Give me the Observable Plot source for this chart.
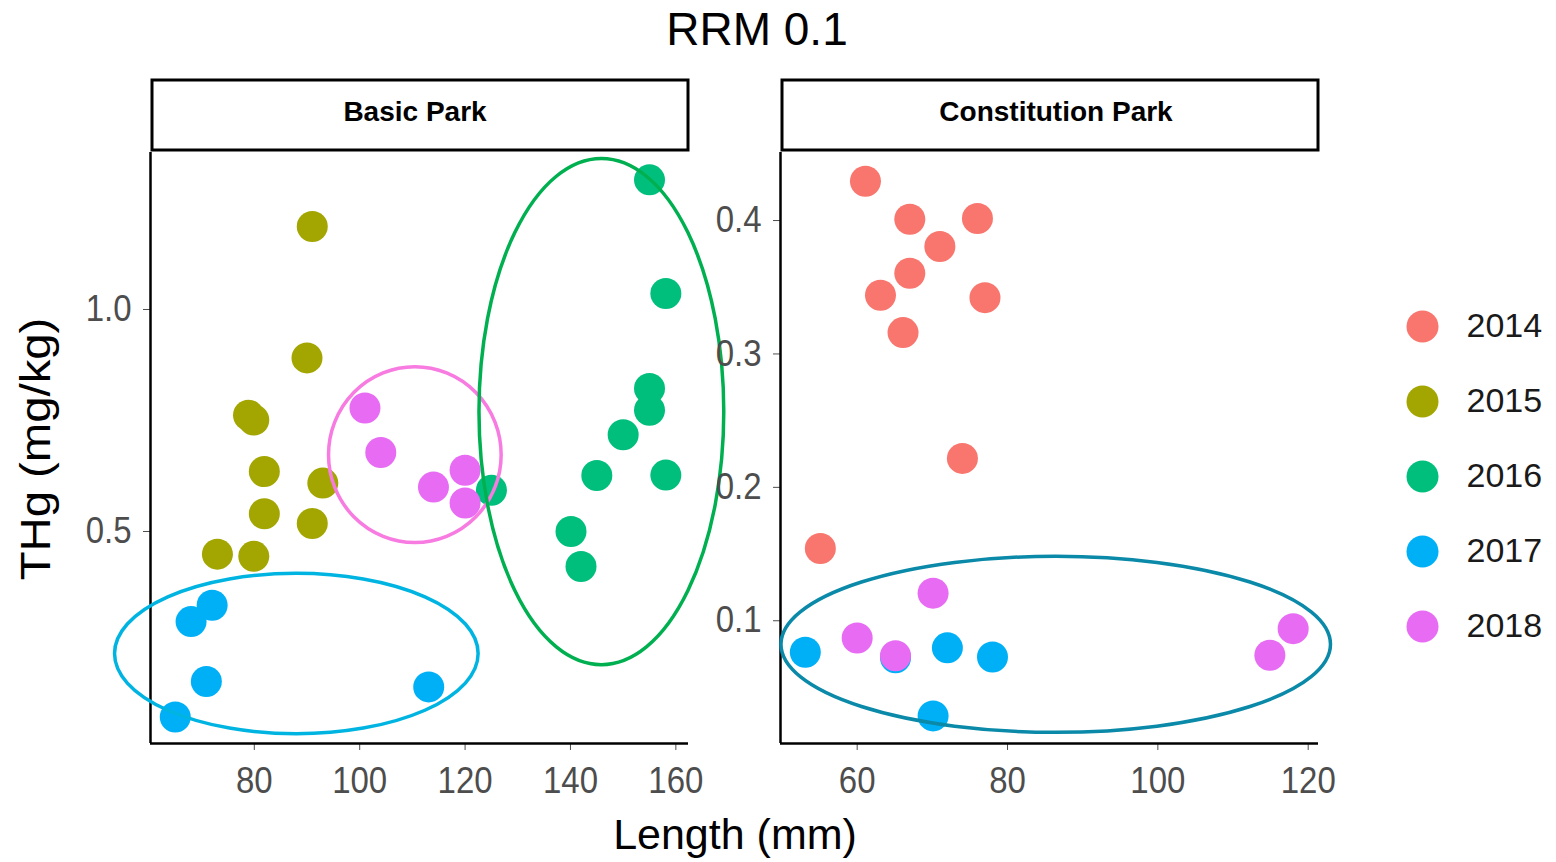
<!DOCTYPE html>
<html><head><meta charset="utf-8">
<script src="https://cdn.jsdelivr.net/npm/d3@7"></script>
<script src="https://cdn.jsdelivr.net/npm/@observablehq/plot@0.6"></script>
<style>
html,body{margin:0;padding:0;background:#fff;}
#root{position:relative;width:1556px;height:862px;overflow:hidden;font-family:"Liberation Sans",Arial,sans-serif;}
#root > svg{position:absolute;}
</style></head><body><div id="root"></div>
<script>
const FONT = '"Liberation Sans", Arial, Helvetica, sans-serif';
const years = ["2014", "2015", "2016", "2017", "2018"];
const yearColors = ["#F8766D", "#A3A500", "#00BF7D", "#00B0F6", "#E76BF3"];
const panelNames = ["Basic Park", "Constitution Park"];
const chartTitle = "RRM 0.1";
const xTitle = "Length (mm)";
const yTitle = "THg (mg/kg)";

// Basic Park
const basic2015Length = [91, 90, 78.9, 79.9, 81.9, 93, 81.9, 91, 73, 79.9];
const basic2015THg    = [1.187, 0.891, 0.762, 0.751, 0.635, 0.609, 0.540, 0.518, 0.449, 0.444];
const basic2016Length = [155, 158.1, 155, 155, 150, 145, 158.1, 125, 140.1, 142];
const basic2016THg    = [1.292, 1.036, 0.822, 0.773, 0.718, 0.626, 0.627, 0.593, 0.500, 0.421];
const basic2017Length = [72, 68, 70.9, 113.1, 65];
const basic2017THg    = [0.334, 0.297, 0.162, 0.150, 0.082];
const basic2018Length = [101, 104, 120, 114, 120];
const basic2018THg    = [0.778, 0.678, 0.638, 0.600, 0.564];

// Constitution Park
const const2014Length = [61.1, 67, 76, 71, 67, 63.1, 77, 66.1, 74, 55.1];
const const2014THg    = [0.4295, 0.401, 0.4015, 0.3805, 0.3605, 0.344, 0.3422, 0.316, 0.2217, 0.1542];
const const2017Length = [53.1, 65.1, 72, 78, 70.1];
const const2017THg    = [0.0764, 0.0723, 0.0797, 0.0729, 0.0287];
const const2018Length = [70.1, 60, 65.1, 118, 114.9];
const const2018THg    = [0.1207, 0.0871, 0.0738, 0.0941, 0.0741];

// axes
const basicXDomain = [60.3, 162.4];
const basicYDomain = [0.0225, 1.3536];
const basicXTicks = [80, 100, 120, 140, 160];
const basicYTicks = [0.5, 1.0];
const constXDomain = [49.8, 121.37];
const constYDomain = [0.008, 0.451];
const constXTicks = [60, 80, 100, 120];
const constYTicks = [0.1, 0.2, 0.3, 0.4];

// hand-drawn annotation ellipses (data units: centre x, centre y, radius x, radius y)
const basicEllipseCx = [88.07, 110.56, 145.96];
const basicEllipseCy = [0.224, 0.672, 0.769];
const basicEllipseRx = [34.5, 16.38, 23.23];
const basicEllipseRy = [0.1806, 0.198, 0.570];
const basicEllipseColor = ["#00B4E2", "#F77BE0", "#00B050"];
const constEllipseCx = [86.48];
const constEllipseCy = [0.082];
const constEllipseRx = [36.55];
const constEllipseRy = [0.066];
const constEllipseColor = ["#0A89A8"];

function rows(lengths, thgs, year) {
  return lengths.map((l, i) => ({length: l, thg: thgs[i], year}));
}
const basicRows = [
  ...rows(basic2015Length, basic2015THg, "2015"),
  ...rows(basic2016Length, basic2016THg, "2016"),
  ...rows(basic2017Length, basic2017THg, "2017"),
  ...rows(basic2018Length, basic2018THg, "2018")
];
const constRows = [
  ...rows(const2014Length, const2014THg, "2014"),
  ...rows(const2017Length, const2017THg, "2017"),
  ...rows(const2018Length, const2018THg, "2018")
];

const root = document.getElementById("root");

function stretchText(svg) {
  // the reference's tick labels are slightly taller than wide
  d3.select(svg).selectAll("text").each(function() {
    const t = this.getAttribute("transform");
    if (t && /translate/.test(t) && !/scale/.test(t)) this.setAttribute("transform", t + " scale(1,1.1)");
  });
}

function panel(data, xDomain, yDomain, xTicks, yTicks, left, width, marginLeft, marginRight, ell) {
  const plot = Plot.plot({
    width, height: 862,
    marginLeft, marginRight, marginTop: 152, marginBottom: 119,
    style: {background: "transparent", overflow: "visible", fontSize: "33px", fontFamily: FONT, color: "#4d4d4d"},
    x: {domain: xDomain, ticks: xTicks, tickFormat: "d", tickSize: 7, tickPadding: 17, label: null},
    y: {domain: yDomain, ticks: yTicks, tickFormat: ".1f", tickSize: 7, tickPadding: 12, label: null},
    color: {domain: years, range: yearColors},
    marks: [
      Plot.ruleX([xDomain[0]], {stroke: "#000", strokeWidth: 2.5}),
      Plot.ruleY([yDomain[0]], {stroke: "#000", strokeWidth: 2.5}),
      Plot.dot(data, {x: "length", y: "thg", fill: "year", r: 15.5})
    ]
  });
  plot.style.left = left + "px";
  plot.style.top = "0px";
  stretchText(plot);
  const sx = plot.scale("x"), sy = plot.scale("y");
  const g = d3.select(plot).append("g").attr("fill", "none");
  ell.cx.forEach((cx, i) => {
    const px = sx.apply(cx), py = sy.apply(ell.cy[i]);
    g.append("ellipse")
      .attr("cx", px).attr("cy", py)
      .attr("rx", Math.abs(sx.apply(cx + ell.rx[i]) - px))
      .attr("ry", Math.abs(sy.apply(ell.cy[i] + ell.ry[i]) - py))
      .attr("stroke", ell.color[i]).attr("stroke-width", 3.5);
  });
  root.appendChild(plot);
}

panel(basicRows, basicXDomain, basicYDomain, basicXTicks, basicYTicks, 0, 730, 150, 42,
  {cx: basicEllipseCx, cy: basicEllipseCy, rx: basicEllipseRx, ry: basicEllipseRy, color: basicEllipseColor});
panel(constRows, constXDomain, constYDomain, constXTicks, constYTicks, 700, 670, 80, 52,
  {cx: constEllipseCx, cy: constEllipseCy, rx: constEllipseRx, ry: constEllipseRy, color: constEllipseColor});

// legend
const legend = Plot.plot({
  width: 166, height: 370, marginLeft: 0, marginRight: 0, marginTop: 34, marginBottom: 33,
  style: {background: "transparent", overflow: "visible", fontFamily: FONT, fontSize: "34px", color: "#1a1a1a"},
  y: {type: "point", domain: years, padding: 0, axis: null},
  color: {domain: years, range: yearColors},
  marks: [
    Plot.dot(years, {y: d => d, fill: d => d, r: 16, frameAnchor: "left", dx: 32}),
    Plot.text(years, {y: d => d, text: d => d, frameAnchor: "left", dx: 76, textAnchor: "start", fontSize: 34, fill: "#1a1a1a"})
  ]
});
legend.style.left = "1390px";
legend.style.top = "290px";
root.appendChild(legend);

// titles and facet strips
const over = d3.select(root).append("svg")
  .attr("width", 1556).attr("height", 862)
  .style("left", "0px").style("top", "0px").style("pointer-events", "none")
  .style("font-family", FONT);
over.append("text").attr("x", 757).attr("y", 45).attr("text-anchor", "middle")
  .attr("font-size", 46).attr("fill", "#000").text(chartTitle);
over.append("text").attr("x", 735).attr("y", 849).attr("text-anchor", "middle")
  .attr("font-size", 43).attr("fill", "#000").text(xTitle);
over.append("text").attr("transform", "translate(50,449) rotate(-90) scale(1.1,1)").attr("text-anchor", "middle")
  .attr("font-size", 43).attr("fill", "#000").text(yTitle);
const strips = [{x: 152, w: 536, tx: 415}, {x: 782, w: 536, tx: 1056}];
strips.forEach((s, i) => {
  over.append("rect").attr("x", s.x).attr("y", 80).attr("width", s.w).attr("height", 70)
    .attr("fill", "#fff").attr("stroke", "#000").attr("stroke-width", 3);
  over.append("text").attr("x", s.tx).attr("y", 121).attr("text-anchor", "middle")
    .attr("font-size", 28).attr("font-weight", "bold").attr("fill", "#000").text(panelNames[i]);
});
</script></body></html>
